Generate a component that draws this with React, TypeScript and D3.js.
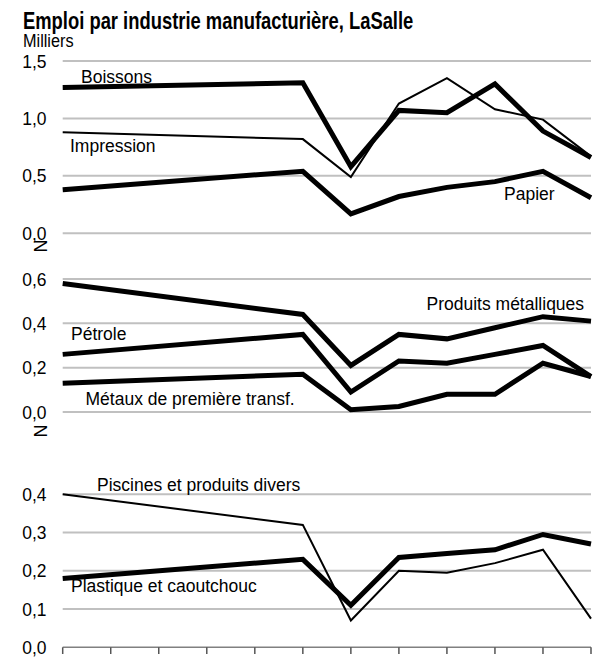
import React from "react";
import * as d3 from "d3";

// ---- data ----
const periods = [0, 5, 6, 7, 8, 9, 10, 11];
const tickPeriods = [0, 1, 2, 3, 4, 5, 6, 7, 8, 9, 10, 11];

const boissons = [1.27, 1.31, 0.58, 1.07, 1.05, 1.3, 0.89, 0.66];
const impression = [0.88, 0.82, 0.49, 1.13, 1.35, 1.08, 0.99, 0.67];
const papier = [0.38, 0.54, 0.17, 0.32, 0.4, 0.45, 0.54, 0.31];

const produitsMetalliques = [0.58, 0.44, 0.21, 0.35, 0.33, 0.38, 0.43, 0.41];
const petrole = [0.26, 0.35, 0.09, 0.23, 0.22, 0.26, 0.3, 0.16];
const metaux = [0.13, 0.17, 0.01, 0.025, 0.08, 0.08, 0.22, 0.16];

const piscines = [0.4, 0.32, 0.07, 0.2, 0.195, 0.22, 0.255, 0.075];
const plastique = [0.18, 0.23, 0.11, 0.235, 0.245, 0.255, 0.295, 0.27];

const ticks1 = [0, 0.5, 1.0, 1.5];
const ticks2 = [0, 0.2, 0.4, 0.6];
const ticks3 = [0, 0.1, 0.2, 0.3, 0.4];

const title = "Emploi par industrie manufacturière, LaSalle";
const unitLabel = "Milliers";

const FONT = "'Liberation Sans', Arial, sans-serif";

const x = d3.scaleLinear().domain([0, 11]).range([62.7, 591]);

const panels = [
  {
    y: d3.scaleLinear().domain([0, 1.5]).range([233.3, 61]),
    ticks: ticks1,
    series: [
      { name: "Boissons", values: boissons, w: 5, lx: 81, ly: 82.5 },
      { name: "Impression", values: impression, w: 2, lx: 70, ly: 151.5 },
      { name: "Papier", values: papier, w: 5, lx: 504, ly: 200 },
    ],
    brk: 246,
  },
  {
    y: d3.scaleLinear().domain([0, 0.6]).range([412, 279]),
    ticks: ticks2,
    series: [
      { name: "Produits métalliques", values: produitsMetalliques, w: 5, lx: 426.5, ly: 309.5 },
      { name: "Pétrole", values: petrole, w: 5, lx: 71, ly: 339.5 },
      { name: "Métaux de première transf.", values: metaux, w: 5, lx: 85.5, ly: 405 },
    ],
    brk: 431,
  },
  {
    y: d3.scaleLinear().domain([0, 0.4]).range([647.3, 494.3]),
    ticks: ticks3,
    series: [
      { name: "Piscines et produits divers", values: piscines, w: 2, lx: 97, ly: 490.5 },
      { name: "Plastique et caoutchouc", values: plastique, w: 5, lx: 71, ly: 591.5 },
    ],
    brk: null as number | null,
  },
];

const fmt = (v: number) => d3.format(".1f")(v).replace(".", ",");

export default function App() {
  return (
    <svg
      width={606}
      height={658}
      style={{ position: "absolute", left: 0, top: 0, background: "#fff" }}
      fontFamily={FONT}
    >
      <rect width={606} height={658} fill="#fff" />
      <text
        x={0}
        y={0}
        fontSize={23}
        fontWeight="bold"
        fill="#000"
        transform="translate(23,29) scale(0.8,1)"
      >
        {title}
      </text>
      <text x={0} y={0} fontSize={17.5} fill="#000" transform="translate(23,47) scale(0.93,1)">
        {unitLabel}
      </text>
      {panels.map((p, pi) => {
        const line = d3
          .line<number>()
          .x((_, i) => x(periods[i]))
          .y((v) => p.y(v));
        return (
          <g key={pi}>
            {p.ticks.map((t) => (
              <g key={t}>
                {!(pi === 2 && t === 0) && (
                  <line
                    x1={x(0)}
                    x2={x(11)}
                    y1={p.y(t)}
                    y2={p.y(t)}
                    stroke="#c0c0c0"
                    strokeWidth={2}
                  />
                )}
                <text
                  x={0}
                  y={0}
                  fontSize={19}
                  textAnchor="end"
                  fill="#000"
                  transform={`translate(46.5,${p.y(t) + 6.5}) scale(0.92,1)`}
                >
                  {fmt(t)}
                </text>
              </g>
            ))}
            {p.series.map((s) => (
              <path
                key={s.name}
                d={line(s.values) || ""}
                fill="none"
                stroke="#000"
                strokeWidth={s.w}
                strokeLinejoin="miter"
              />
            ))}
            {p.series.map((s) => (
              <text key={s.name + "l"} x={s.lx} y={s.ly} fontSize={17.5} fill="#000">
                {s.name}
              </text>
            ))}
            {p.brk !== null && (
              <text
                x={0}
                y={0}
                fontSize={18}
                fill="#000"
                textAnchor="middle"
                dominantBaseline="central"
                transform={`translate(40,${p.brk}) rotate(90)`}
              >
                N
              </text>
            )}
          </g>
        );
      })}
      <line x1={x(0)} x2={x(11)} y1={647.3} y2={647.3} stroke="#808080" strokeWidth={1.5} />
      {tickPeriods.map((t) => (
        <line
          key={t}
          x1={x(t)}
          x2={x(t)}
          y1={647.3}
          y2={654}
          stroke="#555"
          strokeWidth={1.5}
        />
      ))}
    </svg>
  );
}
